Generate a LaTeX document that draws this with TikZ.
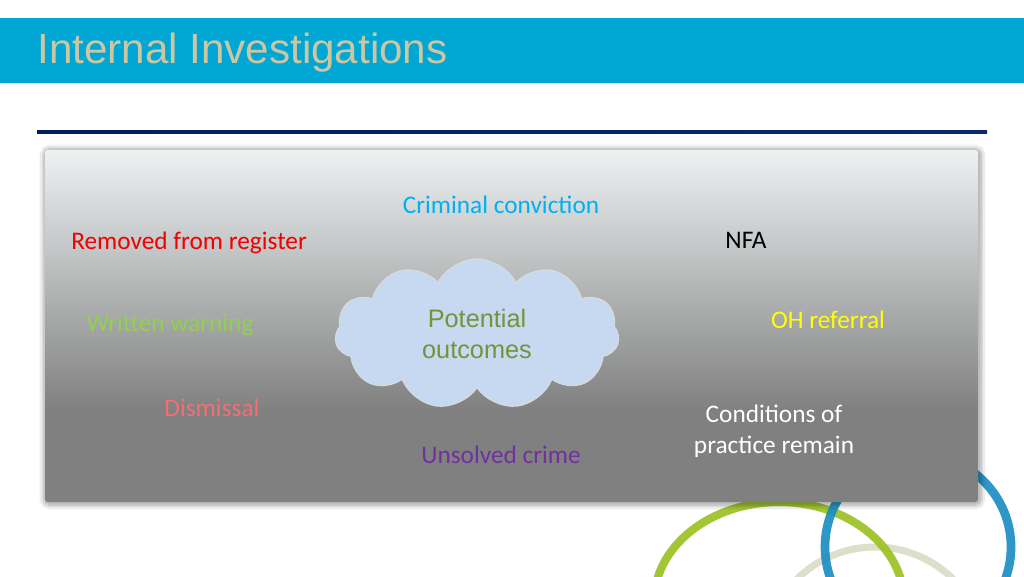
\documentclass[tikz,border=0pt]{standalone}
\usepackage{fontspec}
\setmainfont{Carlito}
\newfontfamily\arialfont{Liberation Sans}
\usepackage{tikz}
\usetikzlibrary{shapes.symbols}

\definecolor{bannerblue}{RGB}{0,166,212}
\definecolor{titletan}{RGB}{204,199,162}
\definecolor{rulenavy}{RGB}{0,30,92}
\definecolor{rulenavyr}{RGB}{12,40,110}
\definecolor{panellight}{RGB}{237,241,242}
\definecolor{panelgray}{RGB}{128,128,128}
\definecolor{cloudfill}{RGB}{198,217,240}
\definecolor{cloudline}{RGB}{212,218,224}
\definecolor{cloudtext}{RGB}{118,146,60}
\definecolor{crimblue}{RGB}{0,176,240}
\definecolor{regred}{RGB}{240,0,0}
\definecolor{warngreen}{RGB}{146,208,80}
\definecolor{dismisspink}{RGB}{245,110,115}
\definecolor{unsolvedpurple}{RGB}{112,48,160}
\definecolor{ohyellow}{RGB}{255,255,0}
\definecolor{ringgreen}{RGB}{155,192,30}
\definecolor{ringblue}{RGB}{25,140,195}
\definecolor{ringpale}{RGB}{218,220,198}

% path bbox maps onto 25bp..75bp
\pgfdeclareverticalshading{panelshade}{100bp}{color(0bp)=(panelgray); color(38bp)=(panelgray); color(75bp)=(panellight); color(100bp)=(panellight)}

\begin{document}
\begin{tikzpicture}[x=0.25mm,y=-0.25mm,
		outcome/.style={font=\fontsize{18}{22}\selectfont,inner sep=0pt,anchor=base},
		ring/.style={line width=#1,opacity=0.9},
		halo/.style={draw=black,line width=#1,opacity=0.07,rounded corners=3pt}]
		\clip (0,0) rectangle (1024,576);
		\useasboundingbox (0,0) rectangle (1024,576);
%		\draw[help lines,step=50] (0,0) grid (1024,576);
		\path (37,63) coordinate (title);
		\path (501,213) coordinate (crim);
		\path (71,249) coordinate (reg);
		\path (746,248) coordinate (nfa);
		\path (170,331) coordinate (warn);
		\path (828,328) coordinate (oh);
		\path (212,416) coordinate (dismiss);
		\path (501,463) coordinate (unsolved);
		\path (774,431) coordinate (cond);
		\path (477,334) coordinate (cloudc);
		\path (45,150) coordinate (panel_tl);
		\path (978,502) coordinate (panel_br);

		% banner and rule
		\fill[white] (0,0) rectangle (1024,576);
		\fill[bannerblue] (0,18) rectangle (1024,83);
		\node (titletext) [anchor=base west,inner sep=0pt,text=titletan] at (title) {\arialfont\fontsize{30}{36}\selectfont Internal Investigations};
		\shade[left color=rulenavy,right color=rulenavyr] (37,130) rectangle (987,133.5);

		% rings behind the panel
		\draw[ring=5pt,ringpale] (875,658) circle [radius=111];
		\draw[ring=5.8pt,ringgreen] (779,602) ellipse [x radius=125,y radius=100];
		\draw[ring=6.2pt,ringblue] (918,547) circle [radius=93];

		% soft shadow round the panel
		\draw[halo=9pt] ([shift={(1,1)}]panel_tl) rectangle ([shift={(1,1)}]panel_br);
		\draw[halo=6pt] ([shift={(1,1)}]panel_tl) rectangle ([shift={(1,1)}]panel_br);
		\draw[halo=4pt] ([shift={(1,1)}]panel_tl) rectangle ([shift={(1,1)}]panel_br);
		\draw[halo=2pt] ([shift={(1,1)}]panel_tl) rectangle ([shift={(1,1)}]panel_br);
		% panel
		\shade[shading=panelshade,rounded corners=2pt] (panel_tl) rectangle (panel_br);

		\node (cloud) [cloud,cloud puffs=11,cloud puff arc=125,aspect=1.9,
			minimum width=71mm,minimum height=37.5mm,fill=cloudfill,draw=cloudline,line width=1pt,
			align=center,text=cloudtext,font=\arialfont\fontsize{18}{22.5}\selectfont]
			at (cloudc) {Potential\\outcomes};

		\node (crimtext) [outcome,text=crimblue] at (crim) {Criminal conviction};
		\node (regtext) [outcome,anchor=base west,text=regred] at (reg) {Removed from register};
		\node (nfatext) [outcome,text=black] at (nfa) {NFA};
		\node (warntext) [outcome,text=warngreen] at (warn) {Written warning};
		\node (ohtext) [outcome,text=ohyellow] at (oh) {OH referral};
		\node (dismisstext) [outcome,text=dismisspink] at (dismiss) {Dismissal};
		\node (unsolvedtext) [outcome,text=unsolvedpurple] at (unsolved) {Unsolved crime};
		\node (condtext) [outcome,anchor=center,align=center,text=white] at (cond) {Conditions of\\practice remain};
	\end{tikzpicture}
\end{document}
